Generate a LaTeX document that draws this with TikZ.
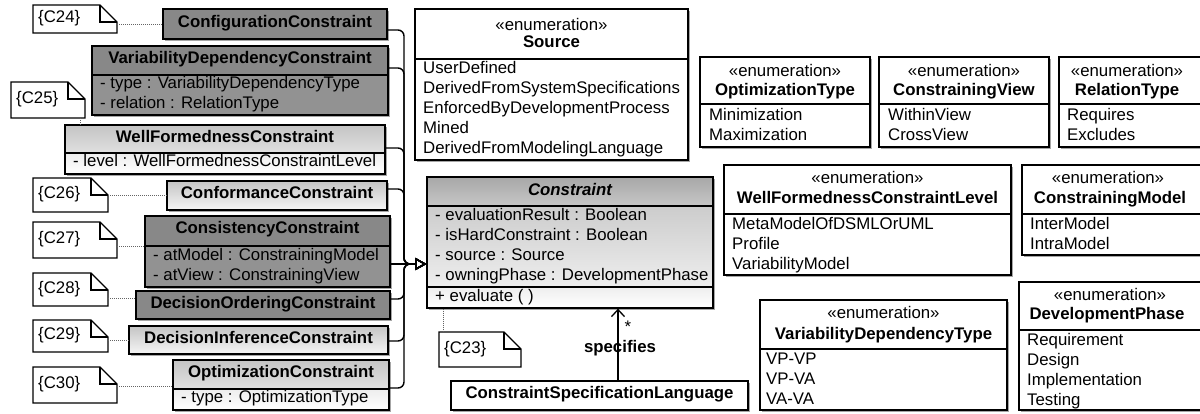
\documentclass[tikz,border=0pt]{standalone}
\usepackage{fontspec}
\setmainfont{Liberation Sans}
\usetikzlibrary{fit,shadows,arrows.meta}

\definecolor{darkfill}{RGB}{136,136,136}
\definecolor{darkattr}{RGB}{146,146,146}
\definecolor{lighttop}{RGB}{196,196,196}
\definecolor{lightbot}{RGB}{246,246,246}
\definecolor{chead1}{RGB}{168,168,168}
\definecolor{chead2}{RGB}{198,198,198}
\definecolor{cattr1}{RGB}{204,204,204}
\definecolor{cattr2}{RGB}{238,238,238}
\definecolor{dotgray}{RGB}{100,100,100}

\newcommand\txt{\fontsize{16.8}{20}\selectfont}

% note with a folded corner: name, x1, y1, x2, y2, text
\newcommand\cnote[6]{%
  \node[inner sep=0pt, fit={(#2,#3)(#4,#5)}] (#1) {};
  \draw[line width=1.3pt, fill=white] (#2,#3) -- (#4-17,#3) -- (#4,#3+17) -- (#4,#5) -- (#2,#5) -- cycle;
  \draw[line width=1.3pt] (#4-17,#3) -- (#4-17,#3+17) -- (#4,#3+17);
  \node[ltext] (#1-t) at (#2+5,{(#3+#5)/2+1}) {#6};
}
% list of lines: name prefix, x, y of first line, items
\newcommand\rows[4]{%
  \foreach \s [count=\i] in {#4} {\node[ltext] (#1-\i) at (#2,{#3+20*(\i-1)}) {\s};}
}

\tikzset{
  part/.style={draw=black, line width=1.3pt, inner sep=0pt},
  frame/.style={part, drop shadow={shadow xshift=1.5pt, shadow yshift=-1.5pt, fill=black, opacity=.35}},
  darkbox/.style={fill=darkfill},
  darkattrs/.style={fill=darkattr},
  lighthead/.style={top color=lighttop, bottom color=lightbot},
  lightattrs/.style={top color=white!93!black, bottom color=white},
  plainbox/.style={fill=white},
  ctext/.style={inner sep=0pt, font=\txt, anchor=mid},
  btext/.style={ctext, font=\txt\bfseries},
  ltext/.style={inner sep=0pt, font=\txt, anchor=mid west},
  noteline/.style={draw=dotgray, line width=1pt, dash pattern=on 1pt off 1pt},
  gen/.style={line width=1.4pt, rounded corners=6pt, -{Triangle[open, length=11pt, width=12pt]}},
  assoc/.style={line width=1.3pt, -{Straight Barb[length=7pt, width=13pt]}},
}

\begin{document}
\begin{tikzpicture}[x=1pt,y=-1pt]
\useasboundingbox (0,0) rectangle (1200,413);
\clip (0,0) rectangle (1200,413);
\fill[white] (0,0) rectangle (1200,413);

% ---------- specialised constraints ----------
\node[frame, darkbox, fit={(163,9)(387,39)}] (cfg) {};
\node[btext] (cfg-t) at (cfg.center |- 0,25) {ConfigurationConstraint};

\node[frame, darkbox, fit={(92,46)(388,115)}] (vdc) {};
\node[part, darkattrs, fit={(92,75)(388,115)}] (vdc-a) {};
\node[btext] (vdc-t) at (vdc.center |- 0,61) {VariabilityDependencyConstraint};
\rows{vdc-r}{100}{86}{- type : VariabilityDependencyType, - relation : RelationType}

\node[frame, lighthead, fit={(65,125)(385,174)}] (wfc) {};
\node[part, lightattrs, fit={(65,153)(385,174)}] (wfc-a) {};
\node[btext] (wfc-t) at (wfc.center |- 0,140) {WellFormednessConstraint};
\rows{wfc-r}{73}{164}{- level : WellFormednessConstraintLevel}

\node[frame, lighthead, fit={(167,181)(387,210)}] (conf) {};
\node[btext] (conf-t) at (conf.center |- 0,196) {ConformanceConstraint};

\node[frame, darkbox, fit={(145,216)(390,287)}] (cons) {};
\node[part, darkattrs, fit={(145,246)(390,287)}] (cons-a) {};
\node[btext] (cons-t) at (cons.center |- 0,231) {ConsistencyConstraint};
\rows{cons-r}{153}{258}{- atModel : ConstrainingModel, - atView : ConstrainingView}

\node[frame, darkbox, fit={(136,291)(390,319)}] (dord) {};
\node[btext] (dord-t) at (dord.center |- 0,306) {DecisionOrderingConstraint};

\node[frame, lighthead, fit={(129,326)(388,354)}] (dinf) {};
\node[btext] (dinf-t) at (dinf.center |- 0,341) {DecisionInferenceConstraint};

\node[frame, lighthead, fit={(173,360)(389,410)}] (opt) {};
\node[part, lightattrs, fit={(173,389)(389,410)}] (opt-a) {};
\node[btext] (opt-t) at (opt.center |- 0,375) {OptimizationConstraint};
\rows{opt-r}{181}{400}{- type : OptimizationType}

% ---------- abstract constraint ----------
\node[frame, top color=chead1, bottom color=cattr2, fit={(427,177)(713,308)}] (con) {};
\node[part, top color=chead1, bottom color=chead2, fit={(427,177)(713,206)}] (con-h) {};
\node[part, top color=cattr1, bottom color=cattr2, fit={(427,206)(713,287)}] (con-a) {};
\node[part, top color=cattr2, bottom color=white, fit={(427,287)(713,308)}] (con-o) {};
\node[btext, font=\txt\bfseries\itshape] (con-t) at (con.center |- 0,193) {Constraint};
\rows{con-r}{435}{218}{- evaluationResult : Boolean, - isHardConstraint : Boolean, - source : Source, - owningPhase : DevelopmentPhase}
\node[ltext] (con-op) at (435,299) {+ evaluate ( )};

\node[frame, plainbox, fit={(451,381)(748,410)}] (csl) {};
\node[btext] (csl-t) at (csl.center |- 0,396) {ConstraintSpecificationLanguage};

% ---------- enumerations ----------
\node[frame, plainbox, fit={(415,9)(688,160)}] (src) {};
\node[part, plainbox, fit={(415,59)(688,160)}] (src-a) {};
\node[ctext] (src-s) at (src.center |- 0,28) {«enumeration»};
\node[btext] (src-t) at (src.center |- 0,45) {Source};
\rows{src-r}{423}{71}{UserDefined, DerivedFromSystemSpecifications, EnforcedByDevelopmentProcess, Mined, DerivedFromModelingLanguage}

\node[frame, plainbox, fit={(700,57)(870,147)}] (ot) {};
\node[part, plainbox, fit={(700,104)(870,147)}] (ot-a) {};
\node[ctext] (ot-s) at (ot.center |- 0,74) {«enumeration»};
\node[btext] (ot-t) at (ot.center |- 0,93) {OptimizationType};
\rows{ot-r}{709}{118}{Minimization, Maximization}

\node[frame, plainbox, fit={(879,57)(1049,147)}] (cv) {};
\node[part, plainbox, fit={(879,104)(1049,147)}] (cv-a) {};
\node[ctext] (cv-s) at (cv.center |- 0,74) {«enumeration»};
\node[btext] (cv-t) at (cv.center |- 0,93) {ConstrainingView};
\rows{cv-r}{888}{118}{WithinView, CrossView}

\node[frame, plainbox, fit={(1059,57)(1210,147)}] (rt) {};
\node[part, plainbox, fit={(1059,104)(1210,147)}] (rt-a) {};
\node[ctext] (rt-s) at (1127,74) {«enumeration»};
\node[btext] (rt-t) at (1127,93) {RelationType};
\rows{rt-r}{1067}{118}{Requires, Excludes}

\node[frame, plainbox, fit={(724,165)(1011,275)}] (wl) {};
\node[part, plainbox, fit={(724,214)(1011,275)}] (wl-a) {};
\node[ctext] (wl-s) at (wl.center |- 0,181) {«enumeration»};
\node[btext] (wl-t) at (wl.center |- 0,201) {WellFormednessConstraintLevel};
\rows{wl-r}{732}{227}{MetaModelOfDSMLOrUML, Profile, VariabilityModel}

\node[frame, plainbox, fit={(1022,165)(1210,255)}] (cm) {};
\node[part, plainbox, fit={(1022,214)(1210,255)}] (cm-a) {};
\node[ctext] (cm-s) at (1108,181) {«enumeration»};
\node[btext] (cm-t) at (1110,201) {ConstrainingModel};
\rows{cm-r}{1030}{227}{InterModel, IntraModel}

\node[frame, plainbox, fit={(760,300)(1007,410)}] (vt) {};
\node[part, plainbox, fit={(760,349)(1007,410)}] (vt-a) {};
\node[ctext] (vt-s) at (vt.center |- 0,316) {«enumeration»};
\node[btext] (vt-t) at (vt.center |- 0,337) {VariabilityDependencyType};
\rows{vt-r}{766}{362}{VP-VP, VP-VA, VA-VA}

\node[frame, plainbox, fit={(1019,282)(1210,410)}] (dp) {};
\node[part, plainbox, fit={(1019,330)(1210,410)}] (dp-a) {};
\node[ctext] (dp-s) at (1110,298) {«enumeration»};
\node[btext] (dp-t) at (1107,317) {DevelopmentPhase};
\rows{dp-r}{1027}{343}{Requirement, Design, Implementation, Testing}

% ---------- notes ----------
\cnote{n24}{33}{5}{117}{33}{\{C24\}}
\cnote{n25}{11}{82}{85}{118}{\{C25\}}
\cnote{n26}{33}{178}{108}{212}{\{C26\}}
\cnote{n27}{33}{222}{117}{258}{\{C27\}}
\cnote{n28}{33}{273}{108}{306}{\{C28\}}
\cnote{n29}{33}{320}{108}{352}{\{C29\}}
\cnote{n30}{33}{367}{117}{403}{\{C30\}}
\cnote{n23}{439}{332}{521}{367}{\{C23\}}

\draw[noteline] (n24.east |- 0,24) -- (cfg.west |- 0,24);
\draw[noteline] (n25.south -| 80,0) -- (wfc.north -| 80,0);
\draw[noteline] (n26.east |- 0,195) -- (conf.west |- 0,195);
\draw[noteline] (n27.east |- 0,246) -- (cons.west |- 0,246);
\draw[noteline] (n28.east |- 0,298) -- (dord.west |- 0,298);
\draw[noteline] (n29.east |- 0,340) -- (dinf.west |- 0,340);
\draw[noteline] (n30.east |- 0,386) -- (opt.west |- 0,386);
\draw[noteline] (con.south -| 443,0) -- (n23.north -| 443,0);

% ---------- generalisations into one bus ----------
\foreach \n/\y in {cfg/30, vdc/68, wfc/148, conf/189, dord/299, dinf/341, opt/388}
  \draw[gen] (\n.east |- 0,\y) -- (404,\y) -- (404,264) -- (con.west |- 0,264);
\draw[gen] (cons.east |- 0,264) -- (con.west |- 0,264);

% ---------- association ----------
\draw[assoc] (csl.north -| 618,0) -- (con.south -| 618,0);
\node[ctext] (mult) at (628,330) {*};
\node[btext] (spec) at (620,350) {specifies};
\end{tikzpicture}
\end{document}
